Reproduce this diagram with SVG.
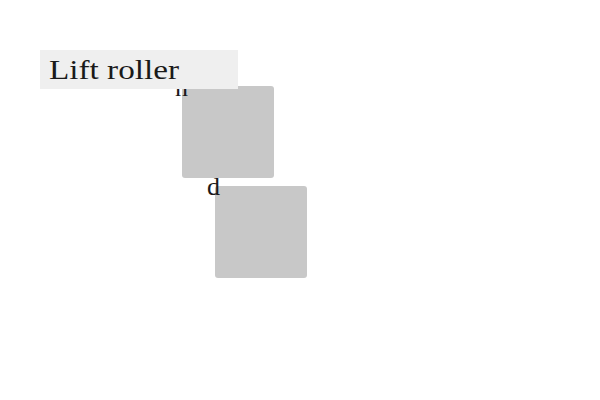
<svg xmlns="http://www.w3.org/2000/svg" width="600" height="400" viewBox="0 0 600 400">
<style>
.box{fill:#c8c8c8;}
.lbl{font-family:"Liberation Serif","DejaVu Serif",serif;font-size:26px;fill:#1a1a1a;}
.title{font-family:"Liberation Serif","DejaVu Serif",serif;font-size:28px;fill:#1a1a1a;}
</style>
<rect width="600" height="400" fill="#ffffff"/>
<g id="connectors"></g>
<g id="node-n">
<rect class="box" x="182" y="86" width="92" height="92" rx="3"/>
<text class="lbl" x="175" y="96">n</text>
</g>
<g id="node-d">
<rect class="box" x="215" y="186" width="92" height="92" rx="3"/>
<text class="lbl" x="207" y="195">d</text>
</g>
<g id="title">
<rect x="40" y="50" width="198" height="39" fill="#efefef"/>
<text class="title" x="49" y="79" textLength="130" lengthAdjust="spacingAndGlyphs">Lift roller</text>
</g>
</svg>
